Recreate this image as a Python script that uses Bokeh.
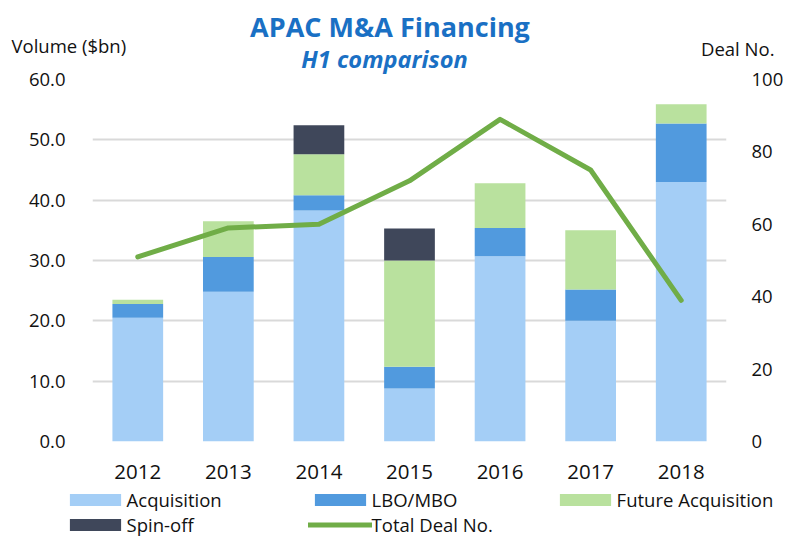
from bokeh.plotting import figure
from bokeh.models import (FactorRange, Range1d, LinearAxis, Legend, LegendItem,
                          Label, ColumnDataSource, NumeralTickFormatter)
from bokeh.embed import file_html
from bokeh.resources import INLINE

# ---- data ----
years = ["2012", "2013", "2014", "2015", "2016", "2017", "2018"]
acquisition = [20.5, 24.8, 38.3, 8.8, 30.7, 20.0, 43.0]
lbo_mbo = [2.3, 5.8, 2.5, 3.6, 4.7, 5.2, 9.7]
future_acquisition = [0.7, 5.9, 6.8, 17.6, 7.4, 9.8, 3.2]
spin_off = [0.0, 0.0, 4.8, 5.3, 0.0, 0.0, 0.0]
total_deal_no = [51, 59, 60, 72, 89, 75, 39]

left_ticks = [0, 10, 20, 30, 40, 50, 60]
right_ticks = [0, 20, 40, 60, 80, 100]

series_names = ["Acquisition", "LBO/MBO", "Future Acquisition", "Spin-off"]
line_name = "Total Deal No."
stackers = ["acquisition", "lbo_mbo", "future_acquisition", "spin_off"]
colors = ["#A4CEF6", "#519ADE", "#B9E19E", "#3F475A"]
line_color = "#70AD47"
title_color = "#1A70C4"
text_color = "#111111"
FONT = "Open Sans"

src = ColumnDataSource(dict(year=years, acquisition=acquisition, lbo_mbo=lbo_mbo,
                            future_acquisition=future_acquisition, spin_off=spin_off,
                            deal=total_deal_no))

base = dict(output_backend="svg", toolbar_location=None, outline_line_color=None)

# ---- header (titles) ----
HEAD_H = 79
header = figure(width=786, height=HEAD_H, x_range=Range1d(0, 1), y_range=Range1d(0, 1),
                min_border=0, x_axis_location=None, y_axis_location=None,
                background_fill_color="white", border_fill_color="white", **base)
header.grid.visible = False

DY = 7  # baseline correction

def lab(fig, text, x, baseline, size, align, style="normal", color=text_color):
    fig.add_layout(Label(x=x, y=HEAD_H - baseline + DY, x_units="screen", y_units="screen",
                         text=text, text_font=FONT, text_font_size=size,
                         text_font_style=style, text_color=color, text_align=align,
                         text_baseline="alphabetic"))

lab(header, "APAC M&A Financing", 389.5, 33.3, "27px", "center", "bold", title_color)
lab(header, "H1 comparison", 384, 65, "23.6px", "center", "bold italic", title_color)
lab(header, "Volume ($bn)", 11, 52, "18.5px", "left")
lab(header, "Deal No.", 774, 55, "18.5px", "right")

# ---- main chart (overlaps header by OVER px, transparent border) ----
OVER = 20
MAIN_H = 441 - (HEAD_H - OVER) + 47
p = figure(x_range=FactorRange(*years, range_padding=0), y_range=Range1d(0, 60),
           width=786, height=MAIN_H,
           min_border_left=92, min_border_right=53, min_border_top=OVER, min_border_bottom=47,
           background_fill_color="white", border_fill_color=None,
           styles={"margin-top": f"-{OVER}px"}, **base)
p.extra_y_ranges = {"deal": Range1d(0, 100)}

bars = p.vbar_stack(stackers, x="year", width=0.56, color=colors, line_color=None, source=src)
ln = p.line(x="year", y="deal", source=src, y_range_name="deal", line_color=line_color,
            line_width=5, line_cap="round", line_join="round")

right = LinearAxis(y_range_name="deal", ticker=right_ticks)
p.add_layout(right, "right")

p.yaxis[0].ticker = left_ticks
p.yaxis[0].formatter = NumeralTickFormatter(format="0.0")

for ax in [p.xaxis[0], p.yaxis[0], right]:
    ax.axis_line_color = None
    ax.major_tick_line_color = None
    ax.minor_tick_line_color = None
    ax.major_label_text_font = FONT
    ax.major_label_text_color = text_color
    ax.major_label_text_font_size = "18.5px"

p.yaxis[0].major_label_standoff = 21
right.major_label_standoff = 19
p.xaxis[0].major_label_text_font_size = "20.5px"
p.xaxis[0].major_label_standoff = 17

p.xgrid.grid_line_color = None
p.ygrid.grid_line_color = "#D9D9D9"
p.ygrid.grid_line_width = 2

# ---- footer (legend), overlapping main by FOVER px, transparent ----
FOVER = 6
FOOT_H = 537 - 441 - 47 + FOVER
footer = figure(width=786, height=FOOT_H, x_range=FactorRange(*years),
                y_range=Range1d(1000, 1001), min_border=0,
                x_axis_location=None, y_axis_location=None,
                background_fill_color=None, border_fill_color=None,
                styles={"margin-top": f"-{FOVER}px"}, **base)
footer.grid.visible = False
fbars = footer.vbar_stack(stackers, x="year", width=0.56, color=colors, line_color=None,
                          source=src)
fln = footer.line(x="year", y="deal", source=src, line_color=line_color,
                  line_width=5, line_cap="round", line_join="round")

items = [LegendItem(label=n, renderers=[r]) for n, r in zip(series_names, fbars)]
items.append(LegendItem(label=line_name, renderers=[fln]))
legend = Legend(items=items, location=(62.6, -0.2), orientation="horizontal", ncols=3,
                glyph_width=64, glyph_height=15, label_standoff=0, label_width=181,
                label_height=20, spacing=0, padding=0, margin=0,
                border_line_color=None, background_fill_alpha=0,
                label_text_font=FONT, label_text_font_size="18.5px",
                label_text_color=text_color)
footer.add_layout(legend)

open("out.html", "w").write(file_html([header, p, footer], INLINE))
